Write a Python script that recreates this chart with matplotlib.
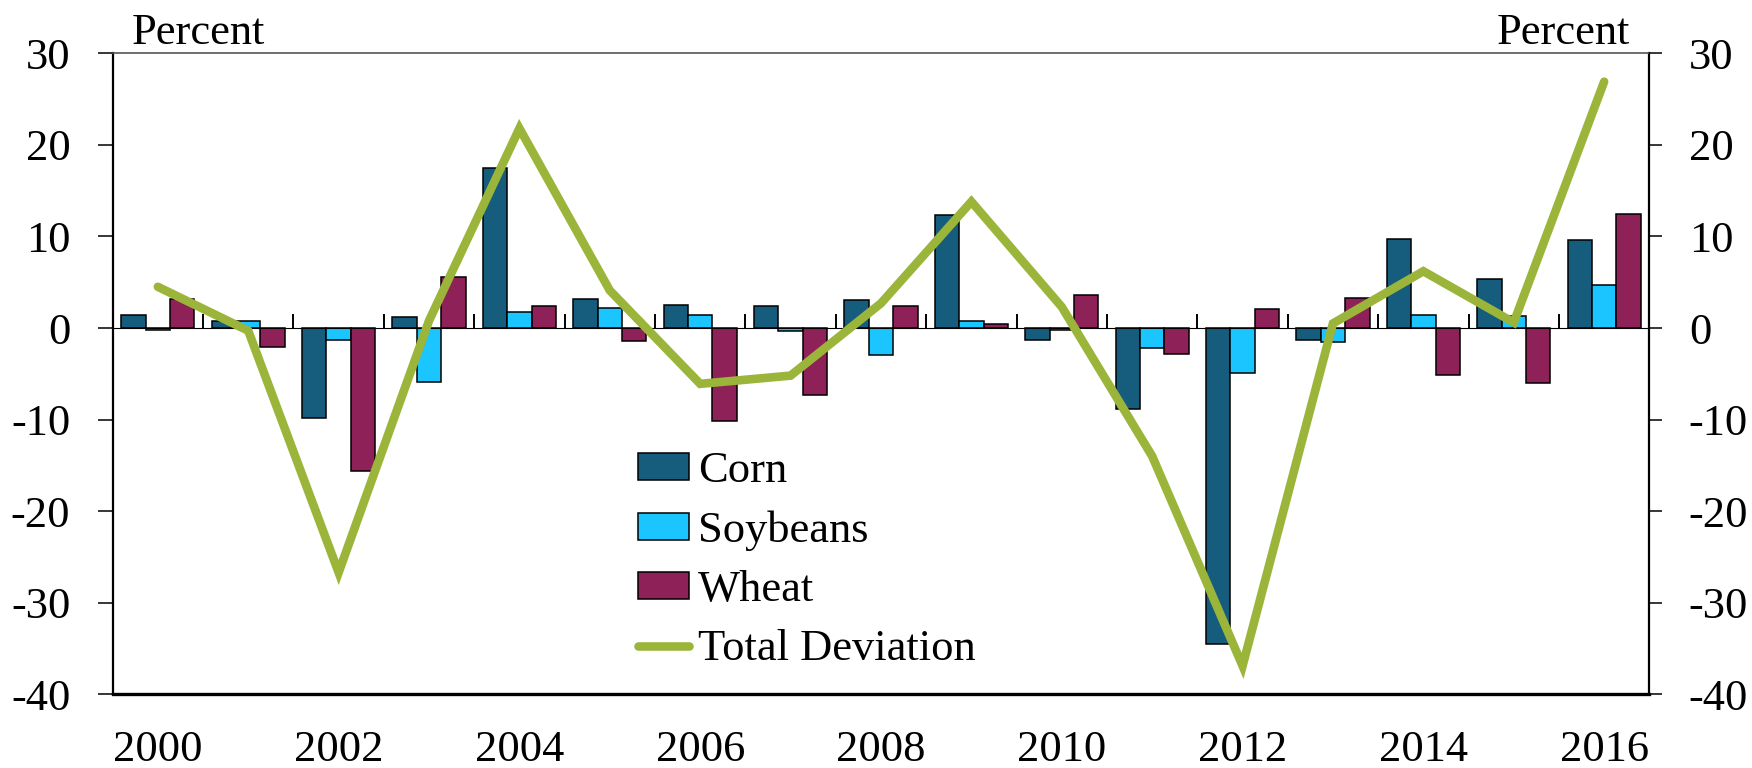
import numpy as np
import matplotlib.pyplot as plt

plt.rcParams['font.family'] = ['Liberation Serif', 'DejaVu Serif']
plt.rcParams['axes.unicode_minus'] = False

years = list(range(2000, 2017))
corn = [1.4, 0.8, -9.8, 1.2, 17.5, 3.2, 2.5, 2.4, 3.1, 12.3, -1.3, -8.9, -34.5, -1.3, 9.7, 5.3, 9.6]
soybeans = [-0.2, 0.8, -1.3, -5.9, 1.8, 2.2, 1.4, -0.3, -2.9, 0.8, -0.2, -2.2, -4.9, -1.5, 1.4, 1.3, 4.7]
wheat = [3.2, -2.1, -15.6, 5.6, 2.4, -1.4, -10.2, -7.3, 2.4, 0.4, 3.6, -2.8, 2.1, 3.3, -5.1, -6.0, 12.4]
total = [4.5, -0.3, -26.7, 0.8, 21.8, 4.1, -6.1, -5.2, 2.7, 13.8, 2.3, -14.0, -36.9, 0.5, 6.2, 0.6, 26.9]

c_corn = '#165C7D'
c_soy = '#1BC5FF'
c_wheat = '#8E2157'
c_total = '#9BB53B'
fs = 32

fig = plt.figure(figsize=(17.52, 7.68), dpi=100)
ax = fig.add_axes([0.0643, 0.0960, 0.8771, 0.8346])

x = np.arange(len(years))
w = 0.27
b1 = ax.bar(x - w, corn, w, color=c_corn, edgecolor='black', linewidth=1.1, label='Corn', zorder=2)
b2 = ax.bar(x, soybeans, w, color=c_soy, edgecolor='black', linewidth=1.1, label='Soybeans', zorder=2)
b3 = ax.bar(x + w, wheat, w, color=c_wheat, edgecolor='black', linewidth=1.1, label='Wheat', zorder=2)
ln, = ax.plot(x, total, color=c_total, linewidth=6.2, solid_capstyle='round',
              solid_joinstyle='miter', label='Total Deviation', zorder=4)

ax.set_xlim(-0.5, len(years) - 0.5)
ax.set_ylim(-40, 30)
ax.set_yticks(np.arange(-40, 31, 10))
ax.tick_params(axis='y', direction='out', length=10.5, width=1.1, pad=20, labelsize=fs)

# year labels along the bottom
ax.set_xticks(x[::2])
ax.set_xticklabels([str(y) for y in years[::2]])
ax.tick_params(axis='x', length=0, pad=26, labelsize=fs)

ax.spines['bottom'].set_linewidth(2.4)
ax.spines['left'].set_linewidth(1.6)
ax.spines['right'].set_linewidth(1.6)
ax.spines['top'].set_linewidth(1.2)
ax.spines['top'].set_color('#555555')

# axis line at zero with ticks between categories
zero_ax = ax.secondary_xaxis(40 / 70)
zero_ax.set_xticks(np.arange(0.5, len(years) - 1, 1))
zero_ax.set_xticklabels([])
zero_ax.tick_params(direction='out', length=10, width=1.4, color='black')
zero_ax.spines['bottom'].set_linewidth(2.0)
zero_ax.spines['bottom'].set_color('black')
zero_ax.set_zorder(3)

ax2 = ax.twinx()
ax2.set_ylim(-40, 30)
ax2.set_yticks(np.arange(-40, 31, 10))
ax2.tick_params(axis='y', direction='out', length=9.4, width=1.1, pad=19, labelsize=fs)
for s in ax2.spines.values():
    s.set_visible(False)

fig.text(0.0752, 1 - 44 / 768, 'Percent', fontsize=fs, va='baseline', ha='left')
fig.text(0.9304, 1 - 44 / 768, 'Percent', fontsize=fs, va='baseline', ha='right')

ax.legend([b1, b2, b3, ln], ['Corn', 'Soybeans', 'Wheat', 'Total Deviation'],
          loc='upper left', bbox_to_anchor=(0.342, 0.379), frameon=False, fontsize=fs,
          handlelength=1.15, handleheight=0.55, handletextpad=0.2, labelspacing=0.43,
          borderpad=0, borderaxespad=0)

fig.savefig('out.png', dpi=100)
